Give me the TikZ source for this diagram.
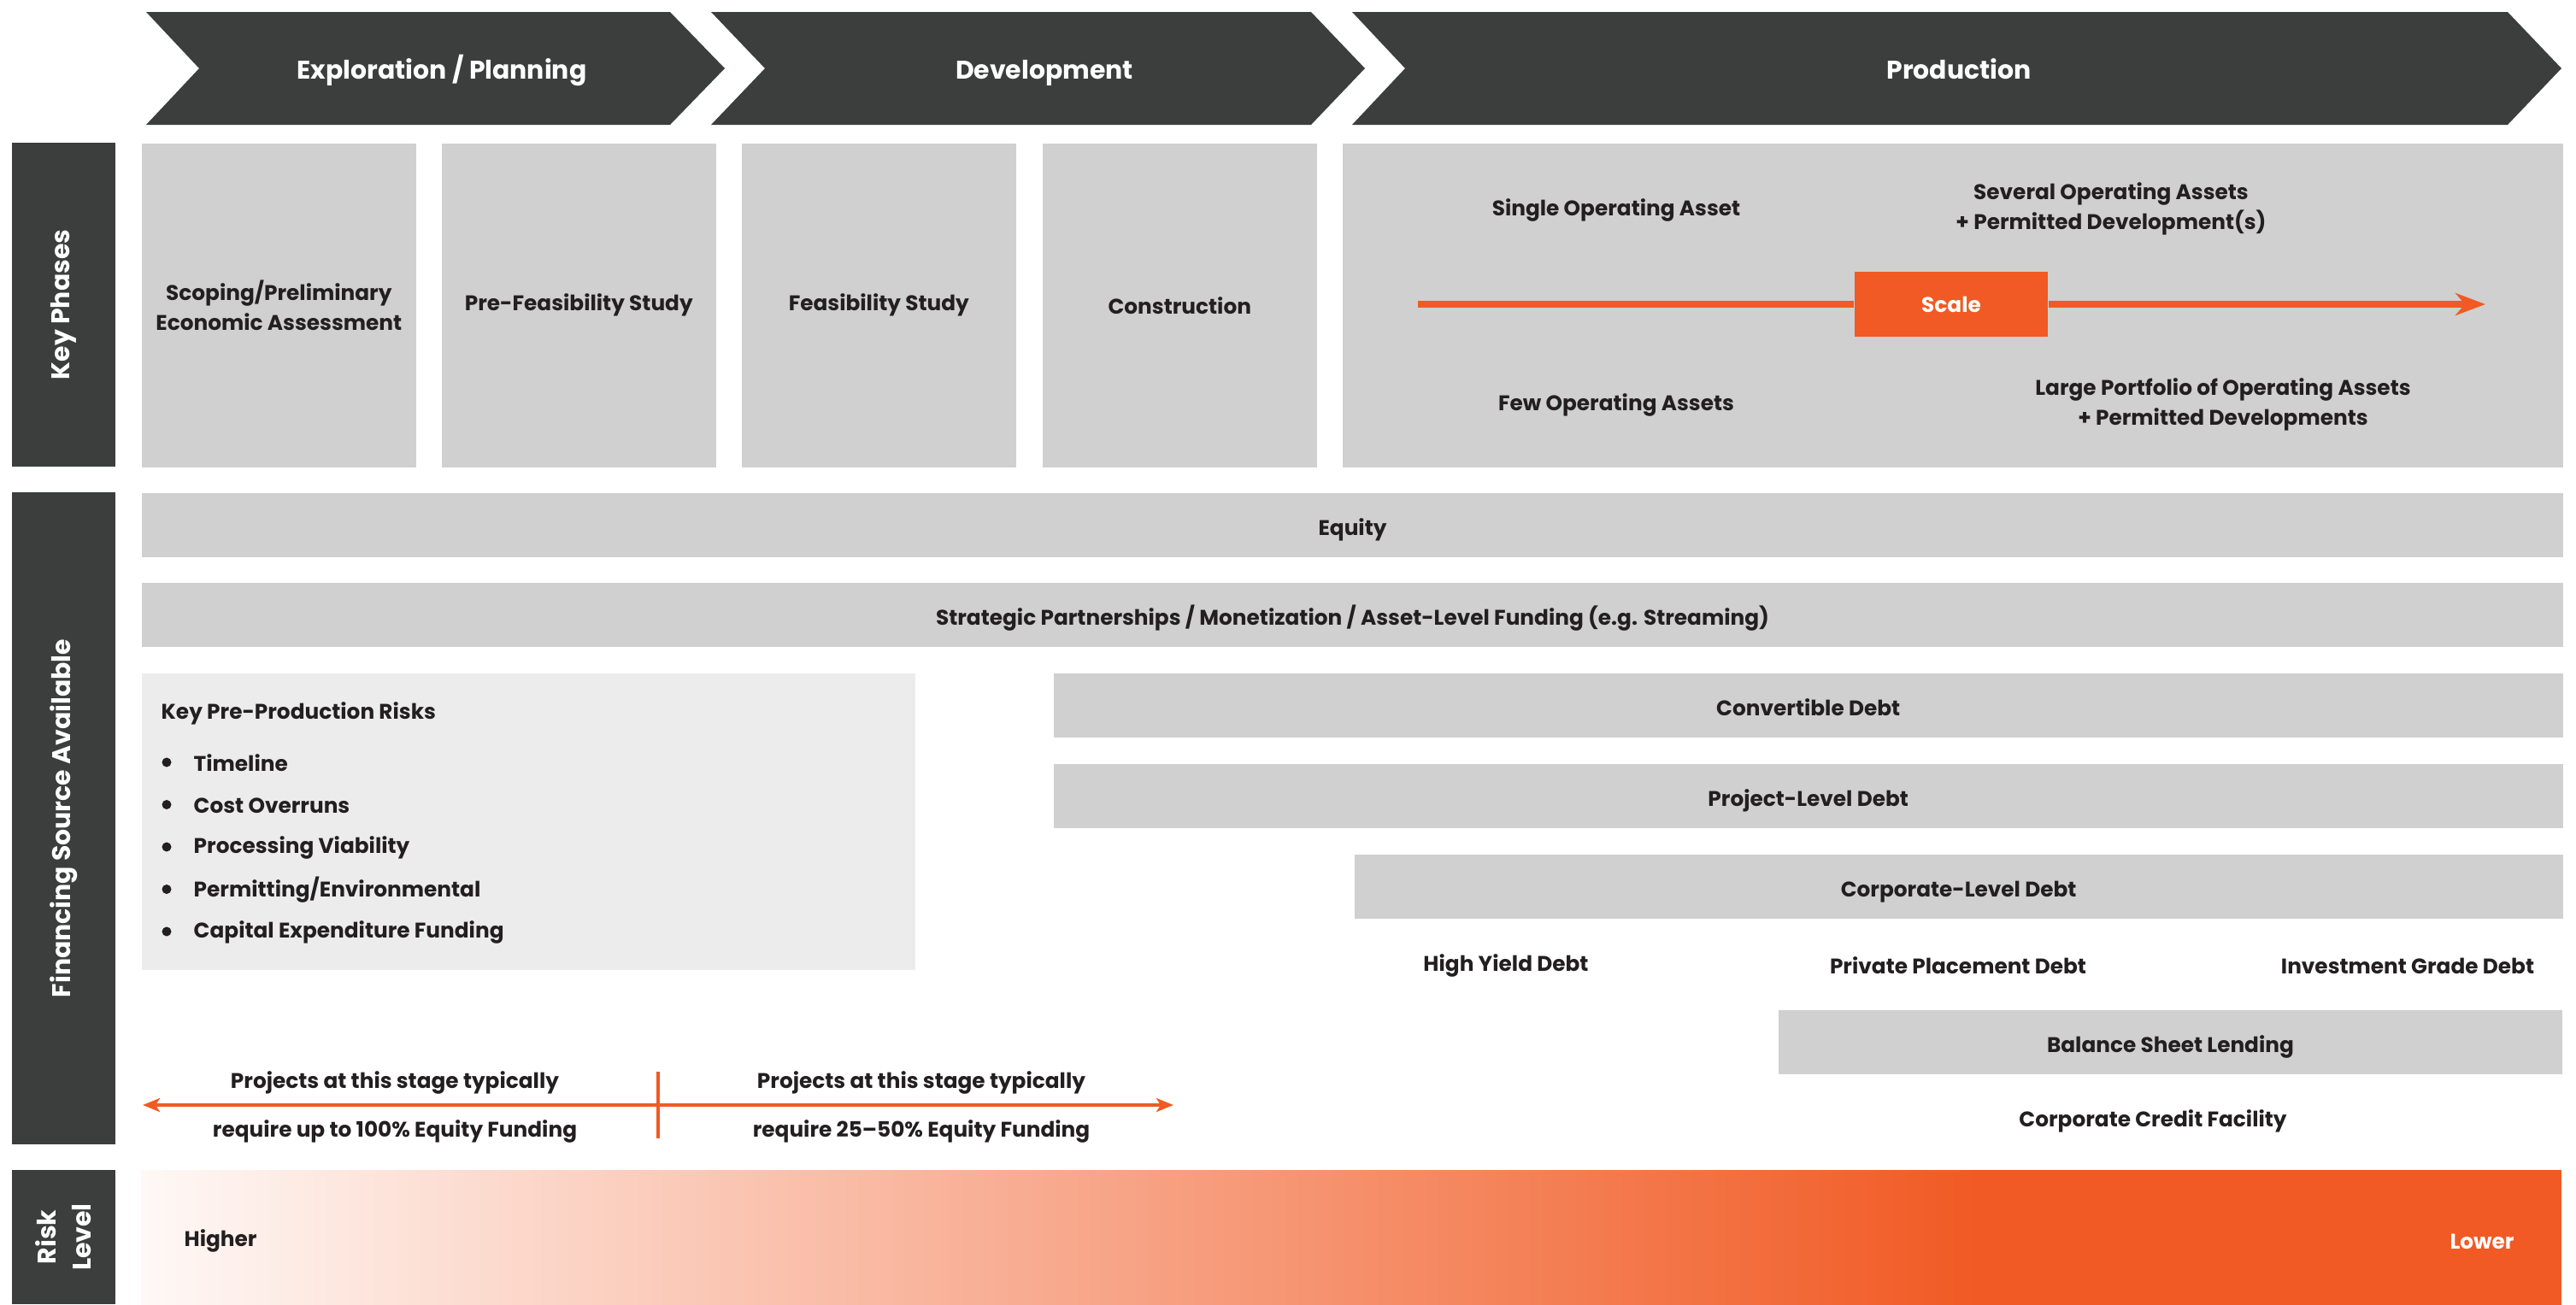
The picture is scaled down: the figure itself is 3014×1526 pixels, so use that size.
\documentclass[tikz,border=0pt]{standalone}
\usepackage{fontspec}
\setmainfont{Poppins}
\usetikzlibrary{arrows.meta}
\definecolor{dark}{HTML}{3B3E3D}
\definecolor{panel}{HTML}{CFD0CF}
\definecolor{pale}{HTML}{EBECEB}
\definecolor{accent}{HTML}{F15A24}
\definecolor{ink}{HTML}{231F20}

\begin{document}
\begin{tikzpicture}[x=0.01cm, y=-0.01cm,
    txt/.style={font=\bfseries\fontsize{7.05}{10}\selectfont, text=ink, inner sep=0, align=center},
    title/.style={txt, text=white, font=\bfseries\fontsize{8.5}{10}\selectfont, text height=0.7em, text depth=0pt},
    side/.style={fill=dark, text=white, inner sep=0, rotate=90, align=center, font=\bfseries\fontsize{8.5}{11.7}\selectfont, minimum height=1.21cm},
    box/.style={txt, fill=panel, anchor=north west, minimum width=3.21cm, minimum height=3.79cm},
    bar/.style={txt, fill=panel, anchor=north west, minimum height=0.755cm, text height=0.7em, text depth=0pt},
    dot/.style={circle, fill=ink, inner sep=0, minimum size=0.11cm},
    flow/.style={draw=accent, line width=2.2pt},
    span/.style={draw=accent, line width=1.1pt},
    sharp/.tip={Stealth[length=0.2cm, width=0.16cm, inset=0.05cm]},
]
\useasboundingbox (0,0) rectangle (3014,1526);

% stage chevrons
\fill[dark] (171,14) -- (784,14) -- (848,80) -- (784,146) -- (171,146) -- (233,80) -- cycle;
\fill[dark] (832,14) -- (1534,14) -- (1597,80) -- (1534,146) -- (832,146) -- (895,80) -- cycle;
\fill[dark] (1582,14) -- (2934,14) -- (2997,80) -- (2934,146) -- (1582,146) -- (1644,80) -- cycle;
\node[title] (explore) at (517,80) {Exploration / Planning};
\node[title] (develop) at (1222,80) {Development};
\node[title] (produce) at (2292,80) {Production};

% key phases
\node[side, minimum width=3.79cm] (keyphases) at (74.5,356.5) {Key Phases};
\node[box] (scoping) at (165,167) {Scoping/Preliminary\\Economic Assessment};
\node[box] (prefeas) at (516,167) {Pre-Feasibility Study};
\node[box] (feas) at (867,167) {Feasibility Study};
\node[box] (build) at (1219,167) {Construction};
\node[box, minimum width=14.27cm] (production) at (1570,167) {};
\node[txt] (single) at (1891,246) {Single Operating Asset};
\node[txt] (several) at (2470,244.5) {Several Operating Assets\\+ Permitted Development(s)};
\node[txt] (few) at (1891,474) {Few Operating Assets};
\node[txt] (large) at (2601,473) {Large Portfolio of Operating Assets\\+ Permitted Developments};
\node[txt, fill=accent, text=white, minimum width=2.26cm, minimum height=0.76cm] (scale) at (2283,356) {Scale};
\coordinate (scalefrom) at (1659,356);
\coordinate (scaleto) at (2908,356);
\draw[flow] (scalefrom) -- (scale);
\draw[flow, -{Stealth[length=0.35cm, width=0.26cm, inset=0.11cm]}] (scale) -- (scaleto);

% financing sources
\node[side, minimum width=7.63cm] (financing) at (74.5,957.5) {Financing Source Available};
\node[bar, minimum width=28.32cm] (equity) at (165,576) {Equity};
\node[bar, minimum width=28.32cm] (strategic) at (165,681) {Strategic Partnerships / Monetization / Asset-Level Funding (e.g. Streaming)};
\node[fill=pale, anchor=north west, inner sep=0, minimum width=9.05cm, minimum height=3.47cm] (risks) at (165,787) {};
\node[txt, anchor=west] (riskhead) at (188,835) {Key Pre-Production Risks};
\foreach \t [count=\i] in {Timeline, Cost Overruns, Processing Viability, Permitting/Environmental, Capital Expenditure Funding} {
    \node[dot] (bullet\i) at (195,{892+49.5*(\i-1)}) {};
    \node[txt, anchor=west] (risk\i) at (226,{893+49.5*(\i-1)}) {\t};
}
\node[bar, minimum width=17.65cm] (convertible) at (1232,787) {Convertible Debt};
\node[bar, minimum width=17.65cm] (projectdebt) at (1232,893) {Project-Level Debt};
\node[bar, minimum width=14.13cm] (corporate) at (1584,999) {Corporate-Level Debt};
\node[txt] (highyield) at (1762,1130) {High Yield Debt};
\node[txt] (private) at (2291,1130) {Private Placement Debt};
\node[txt] (investment) at (2817,1130) {Investment Grade Debt};
\node[bar, minimum width=9.17cm] (balance) at (2080,1181) {Balance Sheet Lending};
\node[txt] (credit) at (2519,1312) {Corporate Credit Facility};

% equity share arrow
\coordinate (eqfrom) at (167,1293);
\coordinate (eqto) at (1373,1293);
\coordinate (tickup) at (770,1254);
\coordinate (tickdown) at (770,1332);
\draw[span, sharp-sharp] (eqfrom) -- (eqto);
\draw[span] (tickup) -- (tickdown);
\node[txt] (fullup) at (462,1267) {Projects at this stage typically};
\node[txt] (fulldown) at (462,1324) {require up to 100\% Equity Funding};
\node[txt] (partup) at (1078,1267) {Projects at this stage typically};
\node[txt] (partdown) at (1078,1324) {require 25–50\% Equity Funding};

% risk level
\node[side, minimum width=1.57cm] (risklevel) at (74.5,1447.5) {Risk\\Level};
\shade[left color=accent!4, right color=accent] (165,1369) rectangle (2311,1540);
\fill[accent] (2310,1369) rectangle (2997,1540);
\node[txt, anchor=west] (higher) at (215,1452) {Higher};
\node[txt, text=white] (lower) at (2904,1453) {Lower};
\end{tikzpicture}
\end{document}
